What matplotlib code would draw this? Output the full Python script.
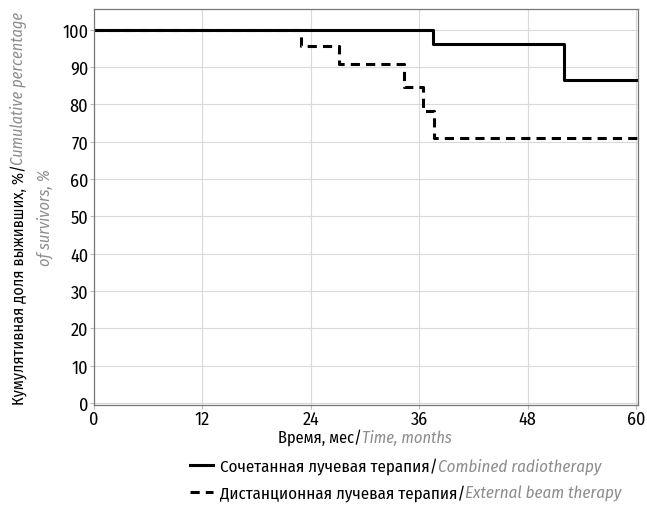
import matplotlib
matplotlib.use("Agg")
import matplotlib.pyplot as plt
from matplotlib.lines import Line2D

plt.rcParams['font.family'] = ['Fira Sans Condensed', 'DejaVu Sans']

# survival curves (Kaplan-Meier style, step after each event)
combined_t = [0, 37.5, 52.0, 60.2]
combined_s = [100, 96.1, 86.4, 86.4]
external_t = [0, 22.9, 27.1, 34.3, 36.4, 37.6, 60.2]
external_s = [100, 95.6, 90.9, 84.7, 78.2, 71.1, 71.1]

x_ticks = [0, 12, 24, 36, 48, 60]
y_ticks = [0, 10, 20, 30, 40, 50, 60, 70, 80, 90, 100]

ru_x = "Время, мес/"
en_x = "Time, months"
ru_y = "Кумулятивная доля выживших, %/"
en_y1 = "Cumulative percentage"
en_y2 = "of survivors, %"
legend_ru = ["Сочетанная лучевая терапия/", "Дистанционная лучевая терапия/"]
legend_en = ["Combined radiotherapy", "External beam therapy"]

GRAY = "#8c8c8c"
FS = 12.2


def two_part(fig, x, y, first, second, fs=FS):
    # black upright piece followed by a gray italic piece on the same baseline
    t1 = fig.text(x, y, first, fontsize=fs, color="black", ha="left", va="baseline")
    fig.add_artist(plt.Annotation(second, xy=(1, 0), xycoords=t1, fontsize=fs,
                                  color=GRAY, style="italic", ha="left", va="bottom"))
    return t1


fig = plt.figure(figsize=(6.47, 5.06), dpi=100)
ax = fig.add_axes([0.145, 0.198, 0.841, 0.782])

ax.step(combined_t, combined_s, where="post", color="black", lw=2.2)
ax.step(external_t, external_s, where="post", color="black", lw=2.2,
        linestyle=(0, (3, 2)))

ax.set_xlim(0, 60.2)
ax.set_ylim(-0.5, 105.5)
ax.set_xticks(x_ticks)
ax.set_yticks(y_ticks)
ax.tick_params(labelsize=13, length=3, color="#bbbbbb", pad=1)
ax.grid(True, color="#d9d9d9", lw=0.8)
for sp in ax.spines.values():
    sp.set_color("#777777")
    sp.set_linewidth(0.9)

renderer = fig.canvas.get_renderer()

# x axis label, centred under the axes
tmp = fig.text(0, 0, ru_x + en_x, fontsize=11.8)
w = tmp.get_window_extent(renderer).width / fig.bbox.width
tmp.remove()
two_part(fig, 0.564 - w / 2, 0.125, ru_x, en_x, fs=11.8)

# y axis label, two lines; first line centred on its full length
YFS = 11.7
tmp = fig.text(0, 0, ru_y + en_y1, fontsize=YFS, rotation=90)
h = tmp.get_window_extent(renderer).height / fig.bbox.height
tmp.remove()
t1 = fig.text(0.028, 0.589 - h / 2, ru_y, fontsize=YFS, rotation=90,
              ha="center", va="bottom")
fig.add_artist(plt.Annotation(en_y1, xy=(0.5, 1), xycoords=t1, fontsize=YFS,
                              color=GRAY, style="italic", rotation=90,
                              ha="center", va="bottom"))
fig.text(0.07, 0.569, en_y2, fontsize=YFS, color=GRAY, style="italic",
         rotation=90, ha="center", va="center")

# legend drawn by hand
ys = [1 - 466 / 506, 1 - 493 / 506]
styles = ["-", (0, (3, 2))]
for yy, ls, ru, en in zip(ys, styles, legend_ru, legend_en):
    fig.add_artist(Line2D([190 / 647, 213 / 647], [yy, yy], color="black",
                          lw=2.2, linestyle=ls, transform=fig.transFigure))
    two_part(fig, 220 / 647, yy - 0.011, ru, en)

fig.savefig("out.png", dpi=100)
